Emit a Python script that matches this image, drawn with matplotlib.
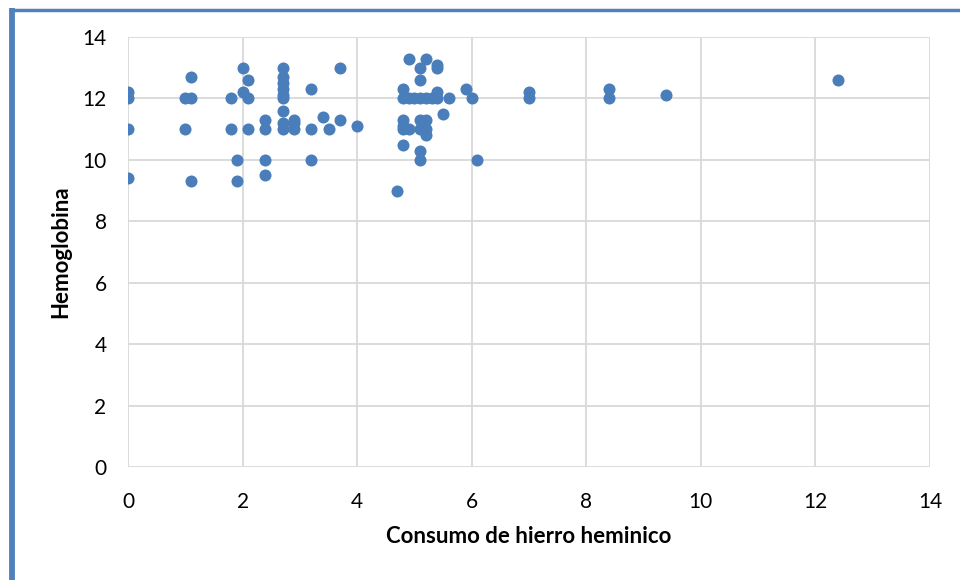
import matplotlib
matplotlib.use("Agg")
import matplotlib.pyplot as plt
from matplotlib.lines import Line2D

consumo = [
    0, 0, 0, 0,
    1.0, 1.0, 1.1, 1.1, 1.1,
    1.8, 1.8, 1.9, 1.9,
    2.0, 2.0, 2.1, 2.1, 2.1,
    2.4, 2.4, 2.4, 2.4,
    2.7, 2.7, 2.7, 2.7, 2.7, 2.7, 2.7, 2.7, 2.7,
    2.9, 2.9, 2.9,
    3.2, 3.2, 3.2, 3.4, 3.5, 3.7, 3.7, 4.0,
    4.7,
    4.8, 4.8, 4.8, 4.8, 4.8, 4.8,
    4.9, 4.9, 4.9,
    5.0,
    5.1, 5.1, 5.1, 5.1, 5.1, 5.1, 5.1,
    5.2, 5.2, 5.2, 5.2, 5.2,
    5.3,
    5.4, 5.4, 5.4, 5.4,
    5.5, 5.6, 5.9, 6.0, 6.1,
    7.0, 7.0, 8.4, 8.4, 9.4, 12.4,
]
hemoglobina = [
    12.2, 12.0, 11.0, 9.4,
    12.0, 11.0, 12.7, 12.0, 9.3,
    12.0, 11.0, 10.0, 9.3,
    13.0, 12.2, 12.6, 12.0, 11.0,
    11.3, 11.0, 10.0, 9.5,
    13.0, 12.7, 12.5, 12.3, 12.1, 12.0, 11.6, 11.2, 11.0,
    11.3, 11.2, 11.0,
    12.3, 11.0, 10.0, 11.4, 11.0, 13.0, 11.3, 11.1,
    9.0,
    12.3, 12.0, 11.3, 11.1, 11.0, 10.5,
    13.3, 12.0, 11.0,
    12.0,
    13.0, 12.6, 12.0, 11.3, 11.0, 10.3, 10.0,
    13.3, 12.0, 11.3, 11.0, 10.8,
    12.0,
    13.1, 13.0, 12.2, 12.0,
    11.5, 12.0, 12.3, 12.0, 10.0,
    12.2, 12.0, 12.3, 12.0, 12.1, 12.6,
]
x_ticks = [0, 2, 4, 6, 8, 10, 12, 14]
y_ticks = [0, 2, 4, 6, 8, 10, 12, 14]
x_label = "Consumo de hierro heminico"
y_label = "Hemoglobina"

plt.rcParams['font.family'] = ['Lato', 'DejaVu Sans']

fig = plt.figure(figsize=(9.6, 5.8), dpi=100)
ax = fig.add_axes([128/960, 113/580, 802/960, 430/580])

ax.scatter(consumo, hemoglobina, s=75, color='#4a7ebb', zorder=3, linewidths=0)

ax.set_xlim(0, 14)
ax.set_ylim(0, 14)
ax.set_xticks(x_ticks)
ax.set_yticks(y_ticks)
ax.grid(True, color='#d9d9d9', linewidth=1.3, zorder=0)
for s in ax.spines.values():
    s.set_visible(False)
ax.tick_params(length=0, labelsize=15, colors='black')
ax.tick_params(axis='x', pad=18)
ax.tick_params(axis='y', pad=15.4)
ax.set_xlabel(x_label, fontsize=16, fontweight='bold', labelpad=10)
ax.set_ylabel(y_label, fontsize=16, fontweight='bold', labelpad=8)

# blue frame on left and top edges
fig.add_artist(Line2D([12/960, 12/960], [0, 1 - 8/580], transform=fig.transFigure,
                      color='#4f81bd', linewidth=4.2, solid_capstyle='butt'))
fig.add_artist(Line2D([10/960, 1], [1 - 9.5/580, 1 - 9.5/580], transform=fig.transFigure,
                      color='#4f81bd', linewidth=2.5, solid_capstyle='butt'))

fig.savefig("out.png", dpi=100)
